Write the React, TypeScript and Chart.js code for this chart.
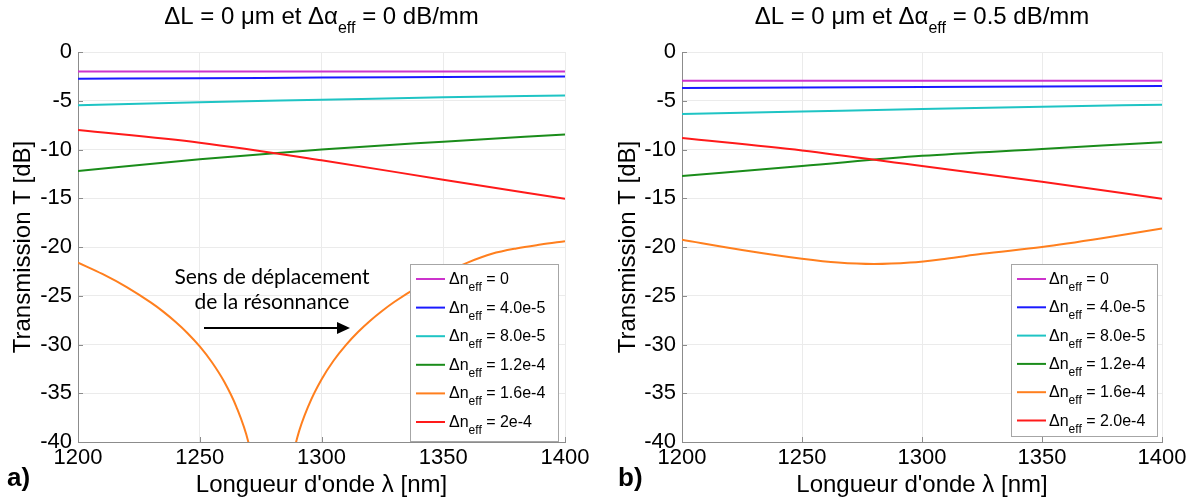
import React, { useEffect, useRef } from "react";
import { Chart, registerables } from "chart.js";
Chart.register(...registerables);

// ---------- data ----------
const WAVELENGTHS = [1200, 1250, 1300, 1350, 1400];
const X_TICKS = [1200, 1250, 1300, 1350, 1400];
const Y_TICKS = [0, -5, -10, -15, -20, -25, -30, -35, -40];

// Panel a) : ΔL = 0 µm, Δα_eff = 0 dB/mm
const A_DN0 = [-2.0, -2.0, -2.0, -2.0, -2.0];
const A_DN4 = [-2.75, -2.69, -2.62, -2.56, -2.5];
const A_DN8 = [-5.45, -5.15, -4.9, -4.65, -4.45];
const A_DN12 = [-12.2, -11.0, -10.0, -9.2, -8.45];
const A_DN20 = [-8.0, -9.3, -11.1, -13.1, -15.05];
const A_DN16_WL = [1200, 1210, 1220, 1230, 1235, 1240, 1245, 1250, 1255, 1260, 1265, 1270, 1275, 1280, 1285, 1290, 1295, 1300, 1305, 1310, 1315, 1320, 1325, 1330, 1340, 1350, 1360, 1370, 1380, 1390, 1400];
const A_DN16 = [-21.6, -22.76, -24.11, -25.71, -26.63, -27.67, -28.84, -30.2, -31.82, -33.8, -36.37, -40.05, -46.5, -60, -45.6, -39.6, -36.08, -33.58, -31.64, -30.06, -28.72, -27.56, -26.54, -25.62, -24.04, -22.7, -21.6, -20.7, -20.15, -19.75, -19.4];
const A_LABELS = ["0", "4.0e-5", "8.0e-5", "1.2e-4", "1.6e-4", "2e-4"];

// Panel b) : ΔL = 0 µm, Δα_eff = 0.5 dB/mm
const B_DN0 = [-2.95, -2.95, -2.95, -2.95, -2.95];
const B_DN4 = [-3.68, -3.63, -3.58, -3.53, -3.48];
const B_DN8 = [-6.35, -6.1, -5.85, -5.62, -5.4];
const B_DN12 = [-12.72, -11.7, -10.65, -9.95, -9.25];
const B_DN20 = [-8.82, -10.1, -11.7, -13.3, -15.05];
const B_DN16_WL = [1200, 1225, 1250, 1265, 1280, 1295, 1310, 1325, 1350, 1375, 1400];
const B_DN16 = [-19.25, -20.3, -21.2, -21.6, -21.75, -21.6, -21.2, -20.7, -20.0, -19.1, -18.1];
const B_LABELS = ["0", "4.0e-5", "8.0e-5", "1.2e-4", "1.6e-4", "2.0e-4"];

const COLORS = ["#cc33cc", "#1a1aff", "#1fc4c4", "#1a8c1a", "#ff7f1e", "#ff1a1a"];

const FONT = "'Liberation Sans', Arial, Helvetica, sans-serif";

type Part = { t: string; sub?: boolean };

function drawRich(ctx: CanvasRenderingContext2D, parts: Part[], x: number, y: number, align: string, size: number, subSize: number, subDy: number) {
  const widths = parts.map((p) => {
    ctx.font = `${p.sub ? subSize : size}px ${FONT}`;
    return ctx.measureText(p.t).width;
  });
  const total = widths.reduce((a, b) => a + b, 0);
  let cx = align === "center" ? x - total / 2 : x;
  ctx.textAlign = "left";
  ctx.textBaseline = "alphabetic";
  parts.forEach((p, i) => {
    ctx.font = `${p.sub ? subSize : size}px ${FONT}`;
    ctx.fillText(p.t, cx, p.sub ? y + subDy : y);
    cx += widths[i];
  });
}

type Panel = {
  letter: string;
  title: Part[];
  labels: string[];
  series: { xs: number[]; ys: number[] }[];
  yWidth: number;
  padRight: number;
  width: number;
  yTitleX: number;
  letterX: number;
  legend: { left: number; right: number; top: number; bottom: number; lineX0: number; lineX1: number; textX: number; row0: number; rowStep: number };
  annotate: boolean;
};

const PANELS: Panel[] = [
  {
    letter: "a)",
    title: [{ t: "\u0394L = 0 \u03bcm et \u0394\u03b1" }, { t: "eff", sub: true }, { t: " = 0 dB/mm" }],
    labels: A_LABELS,
    series: [
      { xs: WAVELENGTHS, ys: A_DN0 },
      { xs: WAVELENGTHS, ys: A_DN4 },
      { xs: WAVELENGTHS, ys: A_DN8 },
      { xs: WAVELENGTHS, ys: A_DN12 },
      { xs: A_DN16_WL, ys: A_DN16 },
      { xs: WAVELENGTHS, ys: A_DN20 },
    ],
    yWidth: 78,
    padRight: 35,
    width: 600,
    yTitleX: 23,
    letterX: 7,
    legend: { left: 410, right: 559, top: 264, bottom: 442, lineX0: 416, lineX1: 445, textX: 449, row0: 279, rowStep: 28.6 },
    annotate: true,
  },
  {
    letter: "b)",
    title: [{ t: "\u0394L = 0 \u03bcm et \u0394\u03b1" }, { t: "eff", sub: true }, { t: " = 0.5 dB/mm" }],
    labels: B_LABELS,
    series: [
      { xs: WAVELENGTHS, ys: B_DN0 },
      { xs: WAVELENGTHS, ys: B_DN4 },
      { xs: WAVELENGTHS, ys: B_DN8 },
      { xs: WAVELENGTHS, ys: B_DN12 },
      { xs: B_DN16_WL, ys: B_DN16 },
      { xs: WAVELENGTHS, ys: B_DN20 },
    ],
    yWidth: 82,
    padRight: 37,
    width: 599,
    yTitleX: 28,
    letterX: 18,
    legend: { left: 411, right: 558, top: 264, bottom: 437, lineX0: 417, lineX1: 446, textX: 449, row0: 279, rowStep: 28.3 },
    annotate: false,
  },
];

function overlayPlugin(panel: Panel) {
  return {
    id: "overlay" + panel.letter,
    afterDraw(chart: any) {
      const ctx: CanvasRenderingContext2D = chart.ctx;
      const area = chart.chartArea;
      const xs = chart.scales.x;
      const ys = chart.scales.y;
      ctx.save();
      // inward ticks
      ctx.strokeStyle = "#8c8c8c";
      ctx.lineWidth = 1;
      X_TICKS.forEach((v) => {
        const px = Math.round(xs.getPixelForValue(v)) + 0.5;
        ctx.beginPath();
        ctx.moveTo(px, area.bottom);
        ctx.lineTo(px, area.bottom - 5);
        ctx.stroke();
      });
      Y_TICKS.forEach((v) => {
        const py = Math.round(ys.getPixelForValue(v)) + 0.5;
        ctx.beginPath();
        ctx.moveTo(area.left, py);
        ctx.lineTo(area.left + 5, py);
        ctx.stroke();
      });

      ctx.fillStyle = "#000";
      const cx = (area.left + area.right) / 2;
      // title
      drawRich(ctx, panel.title, cx, 24, "center", 24, 16, 9);
      // x title
      ctx.font = `24px ${FONT}`;
      ctx.textAlign = "center";
      ctx.textBaseline = "middle";
      ctx.fillText("Longueur d'onde \u03bb [nm]", cx, 485);
      // y title
      ctx.save();
      ctx.translate(panel.yTitleX, 247);
      ctx.rotate(-Math.PI / 2);
      ctx.fillText("Transmission T [dB]", 0, 0);
      ctx.restore();
      // panel letter
      ctx.font = `bold 26px ${FONT}`;
      ctx.textAlign = "left";
      ctx.textBaseline = "middle";
      ctx.fillText(panel.letter, panel.letterX, 479);

      // legend
      const L = panel.legend;
      ctx.fillStyle = "#fff";
      ctx.fillRect(L.left, L.top, L.right - L.left, L.bottom - L.top);
      ctx.strokeStyle = "#a6a6a6";
      ctx.lineWidth = 1;
      ctx.strokeRect(L.left + 0.5, L.top + 0.5, L.right - L.left - 1, L.bottom - L.top - 1);
      panel.labels.forEach((lab, i) => {
        const ry = L.row0 + i * L.rowStep;
        ctx.strokeStyle = COLORS[i];
        ctx.lineWidth = 2;
        ctx.beginPath();
        ctx.moveTo(L.lineX0, ry);
        ctx.lineTo(L.lineX1, ry);
        ctx.stroke();
        ctx.fillStyle = "#000";
        drawRich(ctx, [{ t: "\u0394n" }, { t: "eff", sub: true }, { t: " = " + lab }], L.textX, ry + 5, "left", 16, 12, 7);
      });

      // annotation
      if (panel.annotate) {
        ctx.fillStyle = "#000";
        ctx.font = `21px Lato, 'Open Sans', sans-serif`;
        ctx.textAlign = "center";
        ctx.textBaseline = "middle";
        ctx.fillText("Sens de d\u00e9placement", 272, 277);
        ctx.fillText("de la r\u00e9sonnance", 272, 302);
        ctx.strokeStyle = "#000";
        ctx.lineWidth = 2;
        ctx.beginPath();
        ctx.moveTo(204, 328);
        ctx.lineTo(340, 328);
        ctx.stroke();
        ctx.beginPath();
        ctx.moveTo(337, 322);
        ctx.lineTo(350, 328);
        ctx.lineTo(337, 334);
        ctx.closePath();
        ctx.fill();
      }
      ctx.restore();
    },
  };
}

function makeConfig(panel: Panel): any {
  return {
    type: "line",
    data: {
      datasets: panel.series.map((s, i) => ({
        label: panel.labels[i],
        data: s.xs.map((x, j) => ({ x, y: s.ys[j] })),
        borderColor: COLORS[i],
        backgroundColor: COLORS[i],
        borderWidth: 2,
        pointRadius: 0,
        fill: false,
        cubicInterpolationMode: "monotone",
        order: 5 - i,
      })),
    },
    options: {
      animation: false,
      responsive: false,
      devicePixelRatio: 1,
      layout: { padding: { left: 0, top: 52, right: panel.padRight, bottom: 0 } },
      plugins: { legend: { display: false }, tooltip: { enabled: false }, title: { display: false } },
      scales: {
        x: {
          type: "linear",
          min: 1200,
          max: 1400,
          afterFit: (s: any) => {
            s.height = 59;
          },
          afterBuildTicks: (s: any) => {
            s.ticks = X_TICKS.map((v) => ({ value: v }));
          },
          ticks: { font: { family: FONT, size: 22 }, color: "#000", padding: 3, maxRotation: 0, autoSkip: false, callback: (v: any) => String(v) },
          grid: { color: "#ebebeb", drawTicks: false },
          border: { color: "#8c8c8c" },
        },
        y: {
          type: "linear",
          min: -40,
          max: 0,
          afterFit: (s: any) => {
            s.width = panel.yWidth;
          },
          afterBuildTicks: (s: any) => {
            s.ticks = Y_TICKS.map((v) => ({ value: v }));
          },
          ticks: { font: { family: FONT, size: 22 }, color: "#000", padding: 6, autoSkip: false, callback: (v: any) => String(v) },
          grid: { color: "#ebebeb", drawTicks: false },
          border: { color: "#8c8c8c" },
        },
      },
    },
    plugins: [overlayPlugin(panel)],
  };
}

function PanelChart({ panel }: { panel: Panel }) {
  const ref = useRef<HTMLCanvasElement | null>(null);
  useEffect(() => {
    if (!ref.current) return;
    const chart = new Chart(ref.current, makeConfig(panel));
    return () => chart.destroy();
  }, [panel]);
  return <canvas ref={ref} width={panel.width} height={501} style={{ display: "block", width: panel.width, height: 501 }} />;
}

export default function App() {
  return (
    <div style={{ position: "fixed", left: 0, top: 0, width: 1199, height: 501, background: "#fff", display: "flex" }}>
      {PANELS.map((p) => (
        <PanelChart key={p.letter} panel={p} />
      ))}
    </div>
  );
}
